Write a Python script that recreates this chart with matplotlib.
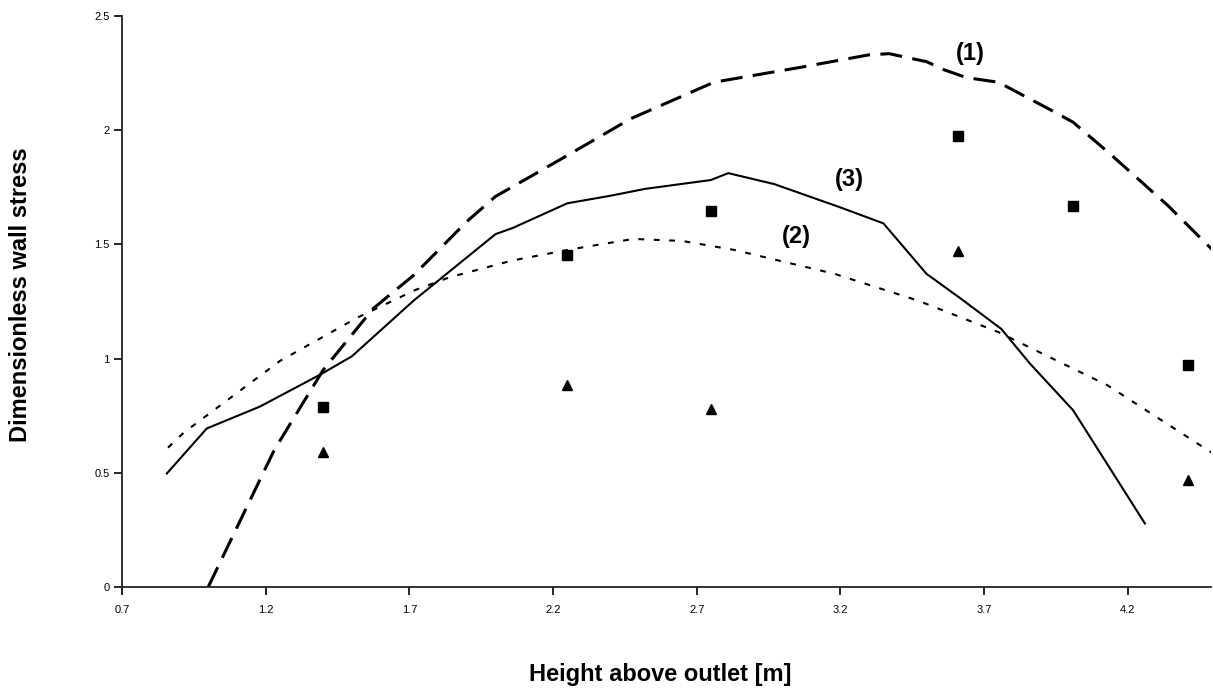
import matplotlib
matplotlib.use("Agg")
import matplotlib.pyplot as plt

plt.rcParams['font.family'] = ['Liberation Sans', 'DejaVu Sans']

# Curve (1): dashed
x1 = [1.0, 1.23, 1.40, 1.575, 1.715, 1.90, 2.0, 2.23, 2.47, 2.76, 3.06, 3.30, 3.37, 3.50, 3.56, 3.64, 3.75, 3.93, 4.01, 4.14, 4.34, 4.5]
y1 = [0.0, 0.60, 0.95, 1.22, 1.365, 1.60, 1.71, 1.875, 2.05, 2.21, 2.275, 2.33, 2.335, 2.30, 2.265, 2.23, 2.21, 2.09, 2.035, 1.895, 1.67, 1.47]

# Curve (2): dotted
x2 = [0.86, 0.914, 1.25, 1.52, 1.72, 1.84, 2.06, 2.27, 2.48, 2.65, 2.83, 3.18, 3.47, 3.75, 3.95, 4.13, 4.49]
y2 = [0.61, 0.675, 0.99, 1.18, 1.30, 1.356, 1.43, 1.48, 1.524, 1.515, 1.476, 1.371, 1.254, 1.116, 0.993, 0.883, 0.59]

# Curve (3): solid
x3 = [0.856, 0.995, 1.18, 1.39, 1.50, 1.715, 2.0, 2.06, 2.25, 2.40, 2.52, 2.75, 2.81, 2.97, 3.20, 3.35, 3.50, 3.62, 3.76, 3.86, 4.01, 4.26]
y3 = [0.497, 0.694, 0.79, 0.93, 1.01, 1.254, 1.545, 1.572, 1.68, 1.713, 1.743, 1.782, 1.812, 1.764, 1.662, 1.592, 1.371, 1.262, 1.13, 0.978, 0.774, 0.278]

# Measurements
sq_x = [1.40, 2.25, 2.75, 3.61, 4.01, 4.41]
sq_y = [0.79, 1.455, 1.645, 1.975, 1.67, 0.97]
tri_x = [1.40, 2.25, 2.75, 3.61, 4.41]
tri_y = [0.59, 0.883, 0.78, 1.47, 0.47]

xticks = [0.7, 1.2, 1.7, 2.2, 2.7, 3.2, 3.7, 4.2]
xticklabels = ['0.7', '1.2', '1.7', '2.2', '2.7', '3.2', '3.7', '4.2']
yticks = [0, 0.5, 1, 1.5, 2, 2.5]
yticklabels = ['0', '0.5', '1', '1.5', '2', '2.5']

fig = plt.figure(figsize=(12.13, 6.91), dpi=100)
ax = fig.add_axes([122/1213, 1-587/691, (1211-122)/1213, (587-16)/691])

ax.plot(x1, y1, color='black', lw=2.2, linestyle=(0, (7.2, 3.4)), solid_capstyle='butt', clip_on=True)
ax.plot(x2, y2, color='black', lw=1.5, linestyle=(0, (2.8, 4.6)))
ax.plot(x3, y3, color='black', lw=1.5, linestyle='-')
ax.plot(sq_x, sq_y, linestyle='none', marker='s', markersize=6.5, color='black')
ax.plot(tri_x, tri_y, linestyle='none', marker='^', markersize=7.5, color='black')

ax.text(3.654, 2.334, '(1)', fontsize=17, fontweight='bold', ha='center', va='center')
ax.text(3.232, 1.783, '(3)', fontsize=17, fontweight='bold', ha='center', va='center')
ax.text(3.048, 1.534, '(2)', fontsize=17, fontweight='bold', ha='center', va='center')

ax.set_xlim(0.7, 4.49)
ax.set_ylim(0, 2.5)
ax.set_xticks(xticks)
ax.set_xticklabels(xticklabels)
ax.set_yticks(yticks)
ax.set_yticklabels(yticklabels)
ax.tick_params(axis='x', direction='out', length=6, width=1.2, labelsize=8, pad=7)
ax.tick_params(axis='y', direction='out', length=6, width=1.2, labelsize=8, pad=3)

for s in ['top', 'right']:
    ax.spines[s].set_visible(False)
for s in ['left', 'bottom']:
    ax.spines[s].set_linewidth(1.3)
    ax.spines[s].set_color('#222222')

fig.text(21/1213, 1-295/691, 'Dimensionless wall stress', rotation=90, fontsize=17,
         fontweight='bold', ha='center', va='center')
fig.text(660/1213, 1-674/691, 'Height above outlet [m]', fontsize=17,
         fontweight='bold', ha='center', va='center')

fig.savefig('out.png', dpi=100)
